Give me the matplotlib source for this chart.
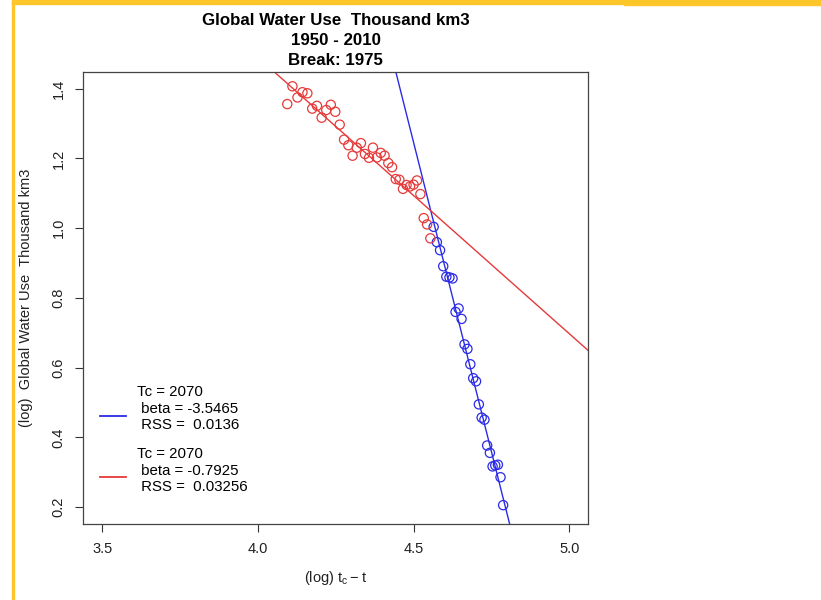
import numpy as np
import matplotlib
matplotlib.use('Agg')
import matplotlib.pyplot as plt
from matplotlib.patches import Rectangle
from matplotlib.lines import Line2D

plt.rcParams['font.family'] = ['Liberation Sans', 'DejaVu Sans']

# data: log(global water use) by year, x = log(tc - year)
tc = 2070
years_blue = np.arange(1950, 1975)   # before break
use_blue = [0.206, 0.286, 0.322, 0.320, 0.317, 0.356, 0.377, 0.451, 0.457, 0.495,
            0.561, 0.570, 0.610, 0.654, 0.667, 0.740, 0.770, 0.760, 0.856, 0.859,
            0.861, 0.891, 0.937, 0.960, 1.004]
years_red = np.arange(1975, 2011)    # after break
use_red = [0.971, 1.011, 1.029, 1.098, 1.137, 1.125, 1.120, 1.124, 1.113, 1.139,
           1.141, 1.175, 1.187, 1.208, 1.216, 1.203, 1.231, 1.202, 1.213, 1.244,
           1.231, 1.208, 1.238, 1.254, 1.297, 1.334, 1.354, 1.339, 1.317, 1.351,
           1.343, 1.387, 1.390, 1.375, 1.407, 1.356]

# fitted lines: intercept, beta, rss
fit_intercept = [17.205, 4.660]
fit_beta = [-3.5465, -0.7925]
fit_rss = ['0.0136', '0.03256']

col_blue = '#2b2be6'
col_red = '#e63a3a'

fig = plt.figure(figsize=(8.21, 6.0), dpi=100)
ax = fig.add_axes([0.1017, 0.1267, 0.6145, 0.7533])

xb = np.log(tc - years_blue)
xr = np.log(tc - years_red)
ax.scatter(xb, use_blue, s=44, facecolors='none', edgecolors=col_blue, linewidths=0.9, zorder=3)
ax.scatter(xr, use_red, s=44, facecolors='none', edgecolors=col_red, linewidths=0.9, zorder=3)

xx = np.linspace(3.3, 5.2, 200)
for a, b, c in zip(fit_intercept, fit_beta, [col_blue, col_red]):
    ax.plot(xx, a + b * xx, color=c, lw=1.0, zorder=2)

ax.set_xlim(3.44, 5.06)
ax.set_ylim(0.152, 1.448)
ax.set_xticks([3.5, 4.0, 4.5, 5.0])
ax.set_xticklabels(['3.5', '4.0', '4.5', '5.0'])
ax.set_yticks([0.2, 0.4, 0.6, 0.8, 1.0, 1.2, 1.4])
ax.set_yticklabels(['0.2', '0.4', '0.6', '0.8', '1.0', '1.2', '1.4'], rotation=90, va='center')
ax.tick_params(direction='out', length=6, width=0.8, colors='#333333', labelsize=10.5,
               labelcolor='#222222', pad=7)
for s in ax.spines.values():
    s.set_color('#444444')
    s.set_linewidth(0.9)

ax.set_xlabel(r'(log) $\mathregular{t_c - t}$', fontsize=10.5, color='#222222', labelpad=9)
ax.set_ylabel('(log)  Global Water Use  Thousand km3', fontsize=10.5, color='#222222', labelpad=13)

ax.set_title('Global Water Use  Thousand km3\n1950 - 2010\nBreak: 1975',
             fontsize=12.2, fontweight='bold', linespacing=1.42, pad=5)

# legend drawn by hand (R style, no box)
leg_y = [0.240, 0.103]
for i, c in enumerate([col_blue, col_red]):
    y0 = leg_y[i]
    ax.add_line(Line2D([0.032, 0.085], [y0, y0], transform=ax.transAxes, color=c, lw=1.3))
    ax.text(0.107, y0 + 0.051, 'Tc = %d' % tc, transform=ax.transAxes, fontsize=10.8, va='center')
    ax.text(0.107, y0 + 0.014, ' beta = %.4f' % fit_beta[i], transform=ax.transAxes, fontsize=10.8, va='center')
    ax.text(0.107, y0 - 0.022, ' RSS =  ' + fit_rss[i], transform=ax.transAxes, fontsize=10.8, va='center')

# yellow page borders
gold = '#ffc629'
W, H = 821, 600
fig.patches.append(Rectangle((12 / W, 0), 1.5 / W, 1, transform=fig.transFigure, color=gold))
fig.patches.append(Rectangle((12 / W, 1 - 3.5 / H), (624 - 12) / W, 3.5 / H, transform=fig.transFigure, color=gold))
fig.patches.append(Rectangle((624 / W, 1 - 5 / H), (W - 624) / W, 5 / H, transform=fig.transFigure, color=gold))

fig.savefig('out.png', dpi=100)
